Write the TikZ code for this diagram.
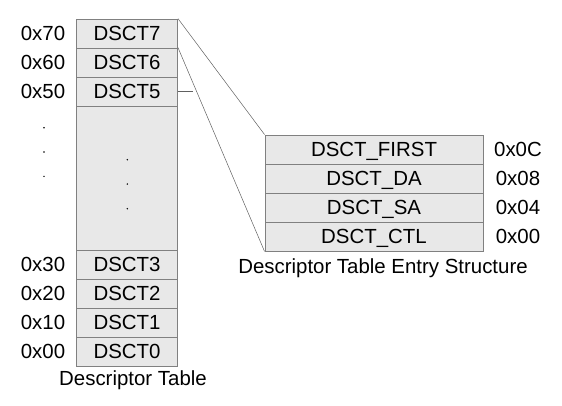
\documentclass[tikz,border=0pt]{standalone}
\usepackage{fontspec}
\setmainfont{Liberation Sans}
\definecolor{cellfill}{HTML}{E8E8E8}
\definecolor{cellline}{HTML}{808080}
\definecolor{connline}{HTML}{606060}
\begin{document}
\begin{tikzpicture}[x=1bp,y=-1bp,
  cell/.style={draw=cellline,fill=cellfill,line width=0.9bp,rectangle,inner sep=0pt,
    minimum width=101bp,minimum height=29bp,text depth=0pt,font=\fontsize{20.5}{22}\selectfont},
  ecell/.style={cell,minimum width=218bp},
  lbl/.style={inner sep=0pt,text depth=0pt,font=\fontsize{20.5}{22}\selectfont},
  captn/.style={inner sep=0pt,font=\fontsize{20.5}{22}\selectfont},
  dotn/.style={circle,fill=black,inner sep=0pt,minimum size=1.6bp},
  conn/.style={draw=connline,line width=0.5bp}]
\useasboundingbox (0,0) rectangle (562,405);
% left table
\node[cell] (d7) at (127,33.5) {DSCT7};
\node[cell] (d6) at (127,62.5) {DSCT6};
\node[cell] (d5) at (127,91.5) {DSCT5};
\node[cell,minimum height=144bp] (gap) at (127,178) {};
\node[cell] (d3) at (127,264.5) {DSCT3};
\node[cell] (d2) at (127,293.5) {DSCT2};
\node[cell] (d1) at (127,322.5) {DSCT1};
\node[cell] (d0) at (127,351.5) {DSCT0};
% left addresses
\node[lbl] (a7) at (43,33.5) {0x70};
\node[lbl] (a6) at (43,62.5) {0x60};
\node[lbl] (a5) at (43,91.5) {0x50};
\node[lbl] (a3) at (43,264.5) {0x30};
\node[lbl] (a2) at (43,293.5) {0x20};
\node[lbl] (a1) at (43,322.5) {0x10};
\node[lbl] (a0) at (43,351.5) {0x00};
% dots
\node[dotn] (ld1) at (44,127.7) {};
\node[dotn] (ld2) at (44,152) {};
\node[dotn] (ld3) at (44,176.3) {};
\node[dotn] (md1) at (127.3,159.7) {};
\node[dotn] (md2) at (127.3,184) {};
\node[dotn] (md3) at (127.3,208.7) {};
\node[captn] (cap1) at (133,380) {Descriptor Table};
% right table
\node[ecell] (first) at (374,149.5) {DSCT\_FIRST};
\node[ecell] (da) at (374,178.5) {DSCT\_DA};
\node[ecell] (sa) at (374,207.5) {DSCT\_SA};
\node[ecell] (ctl) at (374,236.5) {DSCT\_CTL};
\node[lbl] (o3) at (518,149.5) {0x0C};
\node[lbl] (o2) at (518,178.5) {0x08};
\node[lbl] (o1) at (518,207.5) {0x04};
\node[lbl] (o0) at (518,236.5) {0x00};
\node[captn] (cap2) at (383,268) {Descriptor Table Entry Structure};
% connectors
\coordinate (stub) at (193,91.5);
\draw[conn] (d7.north east) -- (first.north west);
\draw[conn] (d6.north east) -- (ctl.south west);
\draw[conn] (d5.east) -- (stub);
\end{tikzpicture}
\end{document}
